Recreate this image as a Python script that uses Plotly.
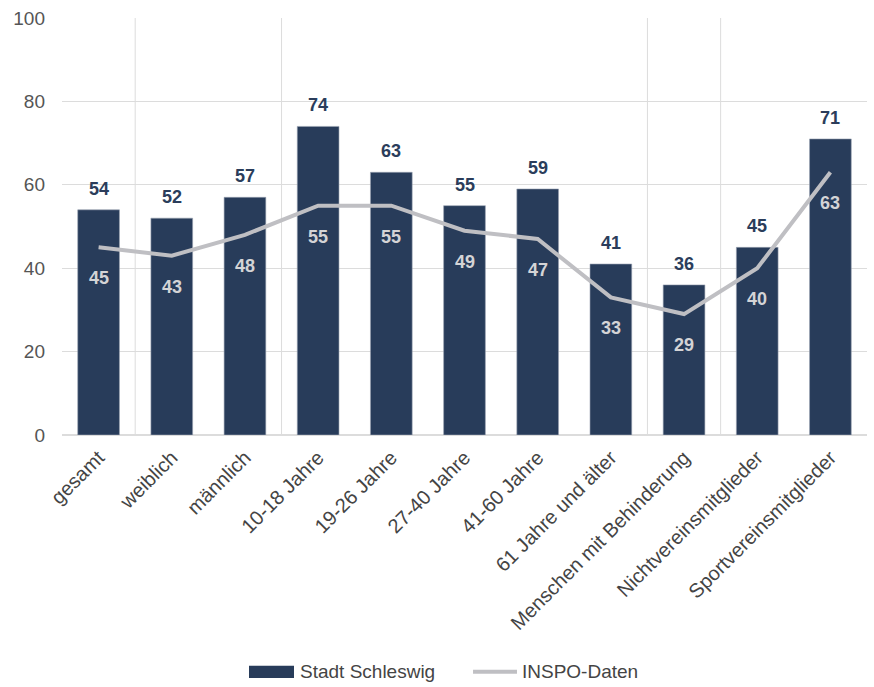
import plotly.graph_objects as go

categories = ["gesamt", "weiblich", "männlich", "10-18 Jahre", "19-26 Jahre",
              "27-40 Jahre", "41-60 Jahre", "61 Jahre und älter",
              "Menschen mit Behinderung", "Nichtvereinsmitglieder",
              "Sportvereinsmitglieder"]
stadt_schleswig = [54, 52, 57, 74, 63, 55, 59, 41, 36, 45, 71]
inspo_daten = [45, 43, 48, 55, 55, 49, 47, 33, 29, 40, 63]
y_ticks = [0, 20, 40, 60, 80, 100]
# group separators between category indices
separators = [0.5, 2.5, 7.5, 8.5]
series_names = ["Stadt Schleswig", "INSPO-Daten"]

BAR_COLOR = "#283c5a"
LINE_COLOR = "#bfbfc3"
FONT = "Liberation Sans, Arial, sans-serif"

fig = go.Figure()
fig.add_trace(go.Bar(
    x=list(range(len(categories))), y=stadt_schleswig, name=series_names[0],
    marker=dict(color=BAR_COLOR, line=dict(color="#9aa3b2", width=0.6)),
    width=0.57, showlegend=False,
))
fig.add_trace(go.Scatter(
    x=list(range(len(categories))), y=inspo_daten, name=series_names[1],
    mode="lines", line=dict(color=LINE_COLOR, width=4), showlegend=False,
))

annotations = []
for i, v in enumerate(stadt_schleswig):
    annotations.append(dict(x=i, y=v, text=f"<b>{v}</b>", showarrow=False,
                            yanchor="bottom", yshift=9,
                            font=dict(family=FONT, size=18, color="#2b3d5b")))
for i, v in enumerate(inspo_daten):
    annotations.append(dict(x=i, y=v, text=f"<b>{v}</b>", showarrow=False,
                            yanchor="top", yshift=-19,
                            font=dict(family=FONT, size=18, color="#d4d4d6")))

shapes = [dict(type="line", xref="x", yref="y", x0=s, x1=s, y0=-0.6, y1=100,
               line=dict(color="#dcdcdc", width=1), layer="below")
          for s in separators]

# legend drawn below the plot: wide swatch for the bars, line swatch for INSPO
LEG_Y = -0.568
shapes.append(dict(type="rect", xref="paper", yref="paper",
                   x0=0.2323, x1=0.2882, y0=LEG_Y - 0.0145, y1=LEG_Y + 0.0145,
                   fillcolor=BAR_COLOR, line=dict(width=0)))
shapes.append(dict(type="line", xref="paper", yref="paper",
                   x0=0.5106, x1=0.5652, y0=LEG_Y, y1=LEG_Y,
                   line=dict(color=LINE_COLOR, width=4)))
annotations.append(dict(xref="paper", yref="paper", x=0.2935, y=LEG_Y,
                        xanchor="left", yanchor="middle", showarrow=False,
                        text=series_names[0],
                        font=dict(family=FONT, size=19, color="#444444")))
annotations.append(dict(xref="paper", yref="paper", x=0.5695, y=LEG_Y,
                        xanchor="left", yanchor="middle", showarrow=False,
                        text=series_names[1],
                        font=dict(family=FONT, size=19, color="#444444")))

fig.update_layout(
    width=874, height=687,
    margin=dict(l=62, r=7, t=18, b=252),
    plot_bgcolor="white", paper_bgcolor="white",
    font=dict(family=FONT, size=19, color="#444444"),
    showlegend=False,
    annotations=annotations,
    shapes=shapes,
    xaxis=dict(tickmode="array", tickvals=list(range(len(categories))),
               ticktext=categories, tickangle=-45, range=[-0.5, 10.5],
               showgrid=False, showline=False, zeroline=False,
               automargin=False, ticklabelstandoff=6,
               tickfont=dict(size=20, color="#444444")),
    yaxis=dict(range=[0, 100], tickvals=y_ticks, showgrid=True,
               gridcolor="#dcdcdc", gridwidth=1, zeroline=True,
               zerolinecolor="#dcdcdc", zerolinewidth=1.5, automargin=False,
               tickfont=dict(size=19, color="#555555"), ticklabelstandoff=16),
)

fig.write_html("out.html")
